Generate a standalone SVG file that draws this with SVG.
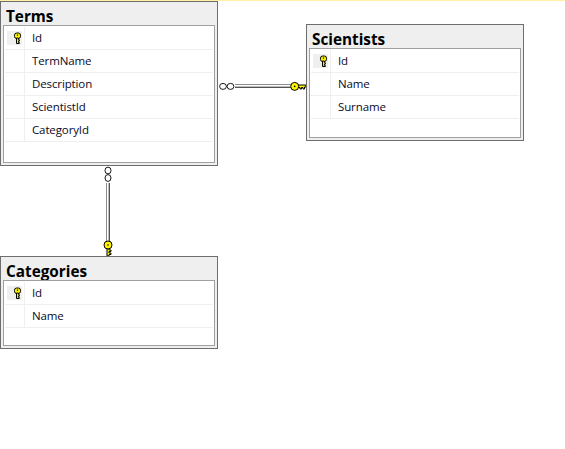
<svg xmlns="http://www.w3.org/2000/svg" width="565" height="449" viewBox="0 0 565 449">
<style>
text{font-family:"Open Sans","Noto Sans","Liberation Sans",sans-serif;fill:#0a0a1e}
.t{font-size:15.3px;font-weight:700;fill:#000}
.f{font-size:11.5px;letter-spacing:-0.12px}
.o{fill:#efefef;stroke:#6e6e6e;stroke-width:1}
.i{fill:#fff;stroke:#a0a0a0;stroke-width:1}
.r{stroke:#efefef;stroke-width:1;fill:none}
.kb{fill:#efefef}
.ring{fill:#fff;stroke:#000;stroke-width:0.9}
.key{fill:#fff700;stroke:#000;stroke-width:1}
.k{fill:#000}
</style>
<defs>
<g id="pk">
<rect x="-3" y="-3.5" width="6" height="5.5" class="key" rx="2.2"/>
<path d="M-1 1.5V7H1.8V5.8H0.9V4.6H1.8V3.2H0.9V1.5Z" class="key" stroke-width="0.8"/>
<rect x="-0.6" y="-2" width="1.2" height="1.2" class="k"/>
</g>
</defs>
<rect x="0" y="0" width="565" height="1" fill="#fff2a6"/>
<g id="connectors">
<g id="terms-scientists">
<path d="M235 84.5H291" stroke="#8c8c8c" stroke-width="1"/>
<path d="M235 85.5H291" stroke="#fff" stroke-width="1"/>
<path d="M235 86.5H291" stroke="#bdbdbd" stroke-width="1"/>
<path d="M235 87.5H291" stroke="#555" stroke-width="1"/>
<ellipse cx="223" cy="86.4" rx="3.4" ry="3" class="ring"/>
<ellipse cx="230.5" cy="86.4" rx="3.4" ry="3" class="ring"/>
<path d="M298 85H306V87H304.5V89H303V87.5H301.5V89H300V87.5H298Z" class="key"/>
<circle cx="294.7" cy="86.4" r="4" class="key"/>
<circle cx="294.7" cy="86.4" r="0.8" class="k"/>
</g>
<g id="terms-categories">
<path d="M106.5 183V241" stroke="#8c8c8c" stroke-width="1"/>
<path d="M107.5 183V241" stroke="#fff" stroke-width="1"/>
<path d="M108.5 183V241" stroke="#bdbdbd" stroke-width="1"/>
<path d="M109.5 183V241" stroke="#555" stroke-width="1"/>
<ellipse cx="108" cy="170.5" rx="3" ry="3.4" class="ring"/>
<ellipse cx="108" cy="178" rx="3" ry="3.4" class="ring"/>
<path d="M107 248V256H109V254.5H111V253H109V251.5H111V250H109V248Z" class="key"/>
<circle cx="108" cy="245" r="4" class="key"/>
<circle cx="108" cy="245" r="0.8" class="k"/>
</g>
</g>
<g id="terms">
<rect x="0.5" y="1.5" width="217" height="164" class="o"/>
<text x="6" y="22" class="t">Terms</text>
<rect x="3.5" y="25.5" width="211" height="137" class="i"/>
<rect x="7" y="31" width="15" height="14" class="kb"/>
<path d="M5 49.5H213M5 72.5H213M5 95.5H213M5 118.5H213M5 141.5H213M24.5 27V141" class="r"/>
<use href="#pk" x="17.5" y="36.5"/>
<text x="32" y="42" class="f">Id</text>
<text x="32" y="65" class="f">TermName</text>
<text x="32" y="88" class="f">Description</text>
<text x="32" y="111" class="f">ScientistId</text>
<text x="32" y="134" class="f">CategoryId</text>
</g>
<g id="scientists">
<rect x="306.5" y="24.5" width="217" height="116" class="o"/>
<text x="312" y="45" class="t">Scientists</text>
<rect x="309.5" y="48.5" width="211" height="89" class="i"/>
<rect x="313" y="54" width="15" height="14" class="kb"/>
<path d="M311 72.5H519M311 95.5H519M311 118.5H519M330.5 50V118" class="r"/>
<use href="#pk" x="323.5" y="59.5"/>
<text x="338" y="65" class="f">Id</text>
<text x="338" y="88" class="f">Name</text>
<text x="338" y="111" class="f">Surname</text>
</g>
<g id="categories">
<rect x="0.5" y="256.5" width="217" height="92" class="o"/>
<text x="6" y="277" class="t">Categories</text>
<rect x="3.5" y="280.5" width="211" height="65" class="i"/>
<rect x="7" y="286" width="15" height="14" class="kb"/>
<path d="M5 304.5H213M5 327.5H213M24.5 282V327" class="r"/>
<use href="#pk" x="17.5" y="291.5"/>
<text x="32" y="297" class="f">Id</text>
<text x="32" y="320" class="f">Name</text>
</g>
</svg>
